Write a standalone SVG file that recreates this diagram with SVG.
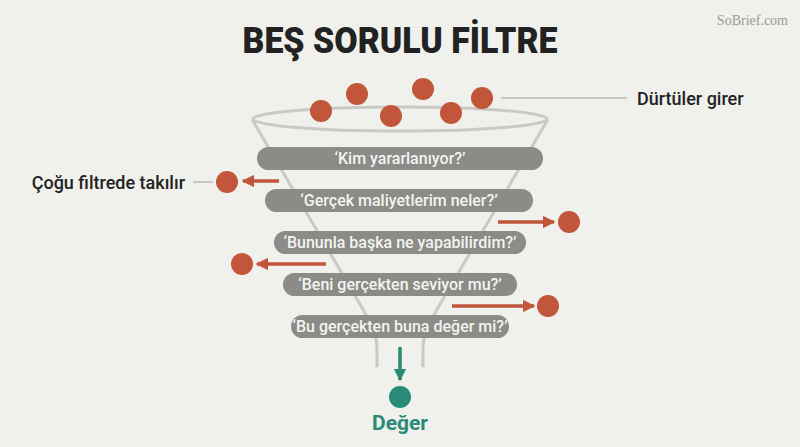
<svg xmlns="http://www.w3.org/2000/svg" width="800" height="447" viewBox="0 0 800 447">
<defs>
<style>
.bg{fill:#f0f0ec}
.funnel{fill:none;stroke:#c9c9c6;stroke-width:3;stroke-linecap:round}
.bar{fill:#8b8b88}
.q{font-family:Roboto,"Liberation Sans",sans-serif;font-size:16px;font-weight:500;fill:#f4f4f0;text-anchor:middle}
.ball{fill:#c1563a}
.arr{stroke:#c1563a;stroke-width:3.5;fill:none}
.lead{stroke:#b8b8b5;stroke-width:1.5}
.lbl{font-family:Roboto,"Liberation Sans",sans-serif;font-size:18px;font-weight:500;fill:#222}
</style>
<marker id="ah" viewBox="0 0 10 10" refX="9" refY="5" markerWidth="3.6" markerHeight="3.6" orient="auto" markerUnits="strokeWidth">
<path d="M0,0 L10,5 L0,10 z" fill="#c1563a"/>
</marker>
<marker id="aht" viewBox="0 0 10 10" refX="9" refY="5" markerWidth="3.6" markerHeight="3.6" orient="auto" markerUnits="strokeWidth">
<path d="M0,0 L10,5 L0,10 z" fill="#2a8a78"/>
</marker>
</defs>
<rect class="bg" x="0" y="0" width="800" height="447"/>
<text x="788" y="25" font-family="'Liberation Serif',serif" font-size="14" fill="#9a9a98" text-anchor="end">SoBrief.com</text>
<text x="400" y="53" font-family="Roboto,'Liberation Sans',sans-serif" font-size="37" font-weight="900" fill="#222" text-anchor="middle" textLength="315" lengthAdjust="spacingAndGlyphs">BEŞ SORULU FİLTRE</text>

<g id="funnel">
<ellipse class="funnel" cx="400" cy="119" rx="147" ry="12"/>
<path class="funnel" d="M253,121 L368,318 Q377,333 377,350 L377,366"/>
<path class="funnel" d="M547,121 L432,318 Q423,333 423,350 L423,366"/>
</g>

<g id="impulses">
<circle class="ball" cx="321" cy="111" r="11"/>
<circle class="ball" cx="357" cy="94" r="11"/>
<circle class="ball" cx="391" cy="116" r="11"/>
<circle class="ball" cx="423" cy="89" r="11"/>
<circle class="ball" cx="451" cy="113" r="11"/>
<circle class="ball" cx="482" cy="98" r="11"/>
</g>

<g id="label-in">
<line class="lead" x1="501" y1="98" x2="627" y2="98"/>
<text class="lbl" x="637" y="105">Dürtüler girer</text>
</g>

<g id="filter1">
<rect class="bar" x="257" y="147" width="286" height="23" rx="11.5"/>
<text class="q" x="400" y="164">‘Kim yararlanıyor?’</text>
</g>
<g id="filter2">
<rect class="bar" x="265" y="189" width="268" height="23" rx="11.5"/>
<text class="q" x="399" y="206">‘Gerçek maliyetlerim neler?’</text>
</g>
<g id="filter3">
<rect class="bar" x="274" y="231" width="252" height="23" rx="11.5"/>
<text class="q" x="400" y="248">‘Bununla başka ne yapabilirdim?’</text>
</g>
<g id="filter4">
<rect class="bar" x="283" y="273" width="234" height="23" rx="11.5"/>
<text class="q" x="400" y="290">‘Beni gerçekten seviyor mu?’</text>
</g>
<g id="filter5">
<rect class="bar" x="291" y="315" width="218" height="23" rx="11.5"/>
<text class="q" x="400" y="332">‘Bu gerçekten buna değer mi?’</text>
</g>

<g id="label-out">
<text class="lbl" x="185" y="189" text-anchor="end">Çoğu filtrede takılır</text>
<line class="lead" x1="193" y1="182" x2="213" y2="182"/>
</g>

<g id="rejected">
<circle class="ball" cx="227" cy="182" r="11"/>
<circle class="ball" cx="569" cy="222" r="11"/>
<circle class="ball" cx="242" cy="264" r="11"/>
<circle class="ball" cx="548" cy="306" r="11"/>
</g>

<g id="connectors">
<line class="arr" x1="279" y1="181" x2="243" y2="181" marker-end="url(#ah)"/>
<line class="arr" x1="498" y1="222" x2="554" y2="222" marker-end="url(#ah)"/>
<line class="arr" x1="326" y1="264" x2="257" y2="264" marker-end="url(#ah)"/>
<line class="arr" x1="452" y1="306" x2="534" y2="306" marker-end="url(#ah)"/>
<line x1="400" y1="347" x2="400" y2="380" stroke="#2a8a78" stroke-width="3.5" marker-end="url(#aht)"/>
</g>

<g id="value">
<circle cx="400" cy="397" r="11" fill="#2a8a78"/>
<text x="400" y="430" font-family="Roboto,'Liberation Sans',sans-serif" font-size="21" font-weight="700" fill="#2a8a78" text-anchor="middle">Değer</text>
</g>
</svg>
